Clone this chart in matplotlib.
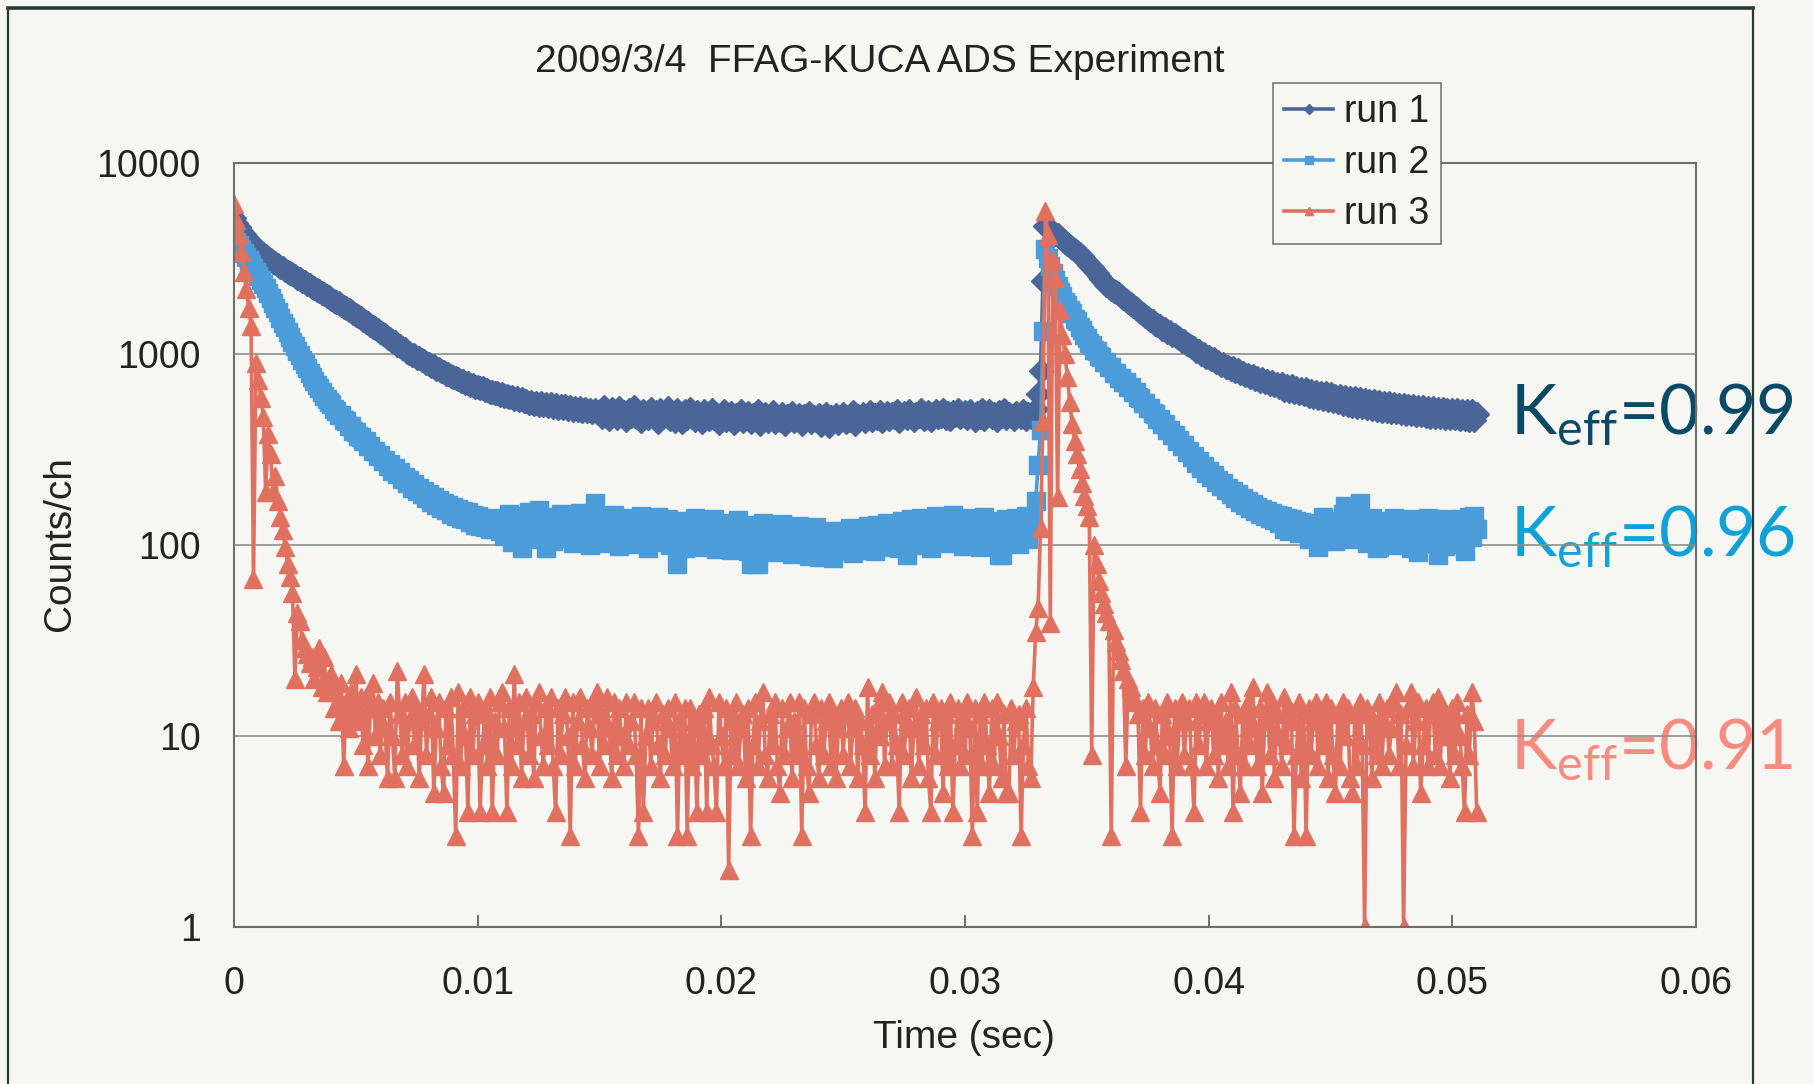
import matplotlib
matplotlib.use("Agg")
import matplotlib.pyplot as plt
import numpy as np
from matplotlib.lines import Line2D
from matplotlib.ticker import FixedLocator, FixedFormatter, NullLocator

plt.rcParams['font.family'] = ['Liberation Sans', 'DejaVu Sans']
plt.rcParams['mathtext.fontset'] = 'custom'
plt.rcParams['mathtext.rm'] = 'Lato'

# counts per 0.1 ms channel
run1 = [
    5180, 4870, 4640, 4420, 4260, 4090, 3960, 3820, 3700, 3610,
    3500, 3430, 3330, 3260, 3170, 3110, 3040, 2990, 2920, 2860,
    2810, 2750, 2700, 2650, 2620, 2560, 2500, 2470, 2420, 2380,
    2330, 2300, 2250, 2210, 2170, 2130, 2080, 2050, 2010, 1980,
    1930, 1900, 1870, 1840, 1800, 1760, 1740, 1700, 1670, 1640,
    1600, 1580, 1540, 1510, 1470, 1450, 1410, 1390, 1360, 1330,
    1300, 1280, 1250, 1220, 1200, 1170, 1150, 1120, 1100, 1070,
    1060, 1030, 1015, 990, 985, 955, 950, 925, 915, 895,
    885, 865, 862, 835, 835, 812, 805, 785, 782, 765,
    762, 745, 742, 725, 724, 708, 704, 690, 692, 675,
    674, 660, 662, 645, 650, 634, 636, 622, 626, 610,
    614, 600, 604, 592, 595, 580, 586, 572, 578, 565,
    570, 556, 563, 550, 557, 544, 552, 538, 548, 532,
    545, 528, 540, 524, 536, 520, 532, 516, 528, 512,
    524, 508, 520, 505, 516, 500, 512, 498, 510, 494,
    505, 470, 528, 482, 455, 515, 490, 462, 520, 478,
    498, 452, 512, 476, 530, 468, 488, 445, 506, 484,
    460, 518, 472, 496, 440, 508, 466, 492, 522, 458,
    486, 448, 510, 474, 438, 500, 462, 515, 470, 452,
    494, 468, 442, 505, 478, 455, 512, 464, 486, 436,
    476, 502, 450, 470, 492, 434, 480, 458, 506, 446,
    468, 490, 440, 478, 455, 500, 432, 472, 486, 448,
    462, 495, 438, 470, 452, 484, 430, 476, 458, 490,
    444, 466, 482, 428, 474, 456, 492, 440, 468, 452,
    478, 426, 462, 486, 418, 470, 448, 482, 436, 464,
    488, 442, 470, 454, 495, 432, 476, 460, 486, 446,
    472, 494, 450, 480, 462, 498, 444, 478, 490, 456,
    484, 466, 500, 448, 476, 492, 460, 505, 470, 452,
    488, 474, 510, 458, 482, 496, 450, 486, 502, 468,
    476, 508, 462, 490, 455, 498, 480, 512, 466, 486,
    494, 460, 504, 478, 450, 492, 470, 508, 458, 484,
    500, 468, 486, 452, 496, 476, 510, 462, 488, 472,
    456, 492, 478, 466, 500, 458, 486, 470, 480, 515,
    615, 815, 2400, 4700, 4550, 4450, 4350, 4270, 4180, 4080,
    3980, 3880, 3780, 3690, 3600, 3500, 3410, 3320, 3240, 3140,
    3040, 2940, 2840, 2740, 2650, 2560, 2460, 2380, 2310, 2250,
    2200, 2150, 2100, 2060, 2020, 1970, 1920, 1870, 1830, 1780,
    1740, 1700, 1660, 1620, 1590, 1550, 1510, 1480, 1440, 1410,
    1395, 1350, 1348, 1310, 1308, 1262, 1258, 1222, 1210, 1172,
    1170, 1130, 1120, 1082, 1080, 1040, 1040, 1002, 1000, 965,
    970, 938, 940, 906, 910, 880, 885, 856, 860, 834,
    840, 812, 828, 792, 800, 774, 780, 758, 768, 742,
    752, 726, 738, 712, 722, 698, 710, 686, 698, 674,
    700, 650, 684, 640, 678, 630, 664, 622, 656, 614,
    652, 604, 640, 596, 636, 588, 628, 580, 622, 572,
    616, 566, 606, 560, 600, 548, 594, 542, 590, 536,
    586, 530, 580, 526, 574, 520, 570, 514, 566, 510,
    562, 506, 556, 500, 552, 496, 548, 494, 544, 490,
    540, 488, 536, 484, 532, 480, 530, 478, 526, 474,
    524, 470, 520, 468, 518, 466, 516, 464, 512, 462,
    510, 460, 508, 458, 506, 456, 504, 454, 500, 452, 488,
]

run2 = [
    4050, 3870, 3700, 3540, 3380, 3230, 3090, 2950, 2820, 2690,
    2570, 2450, 2330, 2210, 2090, 1970, 1860, 1750, 1650, 1550,
    1460, 1380, 1300, 1230, 1160, 1100, 1040, 985, 935, 885,
    840, 800, 760, 725, 690, 660, 630, 605, 580, 560,
    545, 515, 505, 480, 478, 450, 445, 420, 418, 395,
    392, 370, 368, 350, 352, 330, 330, 310, 312, 292,
    296, 276, 280, 258, 265, 245, 252, 234, 240, 222,
    228, 210, 218, 200, 208, 192, 200, 184, 192, 176,
    184, 168, 178, 162, 172, 156, 166, 152, 162, 146,
    158, 142, 155, 138, 150, 136, 148, 132, 144, 128,
    142, 126, 139, 124, 137, 122, 135, 121, 133, 119,
    138, 112, 126, 145, 104, 131, 119, 142, 97, 128,
    116, 148, 108, 134, 122, 152, 110, 127, 97, 140,
    121, 105, 136, 117, 146, 109, 129, 114, 143, 102,
    132, 118, 147, 106, 125, 139, 100, 130, 166, 112,
    127, 141, 103, 121, 136, 110, 144, 116, 99, 133,
    119, 106, 138, 124, 101, 131, 115, 142, 108, 126,
    97, 135, 113, 122, 140, 104, 128, 111, 137, 100,
    124, 109, 80, 131, 117, 96, 134, 106, 121, 139,
    103, 127, 114, 98, 132, 118, 107, 136, 95, 123,
    112, 130, 101, 119, 94, 126, 108, 135, 99, 117,
    128, 93, 80, 114, 121, 80, 104, 131, 96, 115,
    106, 124, 92, 118, 100, 129, 95, 112, 122, 90,
    116, 98, 126, 93, 109, 120, 88, 114, 102, 124,
    87, 111, 97, 119, 92, 106, 85, 115, 101, 94,
    118, 96, 108, 123, 91, 112, 99, 120, 94, 110,
    125, 102, 116, 93, 128, 107, 119, 98, 131, 111,
    104, 127, 115, 96, 133, 109, 89, 122, 137, 100,
    126, 112, 139, 103, 118, 132, 97, 124, 141, 108,
    121, 135, 102, 128, 114, 143, 106, 120, 131, 99,
    129, 111, 138, 105, 124, 134, 98, 117, 140, 109,
    126, 103, 133, 115, 89, 89, 121, 136, 107, 125,
    113, 138, 101, 127, 119, 142, 108, 124, 135, 170,
    263, 398, 1320, 3550, 3200, 2900, 2650, 2450, 2270, 2120,
    2010, 1870, 1800, 1690, 1640, 1530, 1480, 1380, 1340, 1250,
    1220, 1140, 1115, 1050, 1035, 975, 965, 910, 905, 850,
    850, 800, 798, 750, 752, 712, 712, 672, 670, 632,
    632, 592, 590, 555, 556, 520, 522, 490, 488, 458,
    458, 430, 430, 402, 402, 376, 378, 352, 354, 330,
    332, 308, 310, 288, 292, 270, 274, 254, 258, 238,
    244, 226, 232, 214, 220, 203, 210, 193, 200, 184,
    192, 176, 184, 168, 176, 162, 170, 156, 164, 151,
    158, 146, 154, 142, 150, 138, 147, 135, 144, 131,
    141, 122, 139, 118, 136, 128, 134, 115, 132, 124,
    130, 108, 128, 121, 127, 98, 125, 140, 113, 130,
    121, 134, 105, 128, 112, 145, 160, 118, 135, 108,
    126, 139, 166, 114, 131, 102, 125, 138, 110, 97,
    98, 129, 116, 134, 104, 123, 138, 100, 121, 132,
    107, 127, 115, 96, 136, 118, 92, 130, 111, 125,
    139, 103, 121, 133, 89, 117, 128, 99, 136, 112,
    104, 130, 118, 137, 101, 93, 124, 140, 110, 141, 122,
]

run3 = [
    6100, 5000, 4200, 3400, 2700, 2200, 1750, 1400, 66, 900,
    730, 590, 470, 190, 380, 300, 190, 230, 170, 140,
    120, 98, 80, 68, 56, 20, 44, 40, 32, 29,
    27, 24, 26, 20, 23, 29, 18, 26, 17, 20,
    21, 14, 17, 12, 19, 7, 15, 11, 17, 13,
    21, 12, 16, 9, 16, 7, 14, 19, 10, 15,
    8, 14, 11, 6, 15, 10, 6, 22, 13, 8,
    15, 7, 12, 16, 9, 14, 6, 12, 21, 8,
    13, 16, 5, 11, 15, 7, 5, 14, 9, 16,
    8, 3, 17, 7, 14, 10, 4, 16, 8, 13,
    15, 4, 9, 14, 7, 16, 4, 12, 8, 15,
    17, 11, 4, 14, 7, 21, 9, 15, 6, 12,
    16, 8, 13, 6, 15, 17, 10, 7, 14, 9,
    16, 7, 4, 14, 8, 13, 16, 10, 3, 15,
    7, 12, 16, 9, 6, 14, 11, 8, 15, 17,
    7, 13, 9, 16, 11, 6, 15, 8, 14, 10,
    7, 15, 9, 12, 15, 8, 3, 14, 4, 10,
    14, 7, 12, 15, 9, 6, 13, 8, 14, 11,
    7, 15, 3, 12, 8, 14, 3, 14, 7, 11,
    4, 13, 8, 14, 4, 16, 9, 7, 4, 15,
    10, 7, 14, 2, 12, 8, 15, 7, 11, 13,
    6, 14, 3, 9, 15, 7, 12, 17, 8, 6,
    13, 9, 15, 7, 5, 14, 8, 11, 15, 6,
    12, 8, 15, 3, 14, 7, 5, 13, 15, 9,
    6, 14, 8, 12, 15, 7, 13, 6, 11, 14,
    8, 13, 15, 7, 11, 14, 6, 12, 9, 4,
    18, 8, 13, 6, 14, 10, 17, 7, 12, 15,
    7, 13, 9, 4, 15, 8, 12, 14, 6, 11,
    16, 7, 13, 9, 14, 6, 4, 15, 8, 12,
    14, 5, 13, 7, 15, 4, 9, 14, 7, 12,
    8, 15, 11, 3, 14, 4, 13, 7, 15, 9,
    5, 14, 7, 15, 10, 6, 13, 5, 5, 14,
    8, 12, 13, 3, 9, 14, 7, 6, 18, 35,
    47, 123, 447, 5600, 4200, 39, 3100, 2500, 178, 1700,
    1250, 1000, 760, 560, 430, 350, 300, 250, 210, 180,
    160, 140, 8, 100, 80, 65, 56, 49, 44, 40,
    3, 36, 31, 28, 25, 22, 7, 20, 18, 16,
    15, 13, 4, 14, 8, 15, 11, 7, 14, 9,
    5, 13, 8, 15, 10, 3, 14, 7, 12, 15,
    8, 12, 14, 7, 4, 15, 9, 13, 15, 7,
    12, 14, 8, 13, 6, 15, 9, 12, 7, 17,
    4, 14, 8, 5, 13, 7, 15, 9, 18, 11,
    7, 14, 5, 12, 17, 8, 15, 6, 13, 10,
    7, 16, 9, 14, 12, 3, 8, 15, 6, 13,
    3, 14, 8, 12, 15, 7, 13, 9, 15, 6,
    14, 8, 5, 13, 7, 15, 10, 14, 6, 5,
    13, 7, 15, 9, 1, 14, 13, 6, 12, 8,
    15, 7, 12, 14, 8, 11, 15, 17, 7, 13,
    1, 9, 14, 17, 7, 12, 15, 5, 9, 14,
    7, 13, 15, 8, 16, 7, 14, 10, 12, 6,
    14, 8, 15, 10, 7, 4, 13, 8, 17, 12, 4,
]

channel_width = 1e-4
time = np.arange(len(run1)) * channel_width

labels = ['run 1', 'run 2', 'run 3']
keff_labels = ['0.99', '0.96', '0.91']
xtick_vals = [0, 0.01, 0.02, 0.03, 0.04, 0.05, 0.06]
xtick_labels = ['0', '0.01', '0.02', '0.03', '0.04', '0.05', '0.06']
ytick_vals = [1, 10, 100, 1000, 10000]
ytick_labels = ['1', '10', '100', '1000', '10000']

W, H = 1815, 1084
bg = '#f6f6f3'
c1, c2, c3 = '#4a6699', '#4c9cd9', '#e0705f'

fig = plt.figure(figsize=(W / 100, H / 100), dpi=100, facecolor=bg)
ax = fig.add_axes([234 / W, 1 - 927 / H, (1696 - 234) / W, (927 - 163) / H])
ax.set_facecolor(bg)

ax.plot(time, run1, color=c1, marker='D', markersize=12, linewidth=2.6, label=labels[0])
ax.plot(time, run2, color=c2, marker='s', markersize=13, linewidth=2.6, label=labels[1])
ax.plot(time, run3, color=c3, marker='^', markersize=13, linewidth=2.6, label=labels[2])

ax.set_yscale('log')
ax.set_xlim(0, 0.06)
ax.set_ylim(1, 10000)
ax.xaxis.set_major_locator(FixedLocator(xtick_vals))
ax.xaxis.set_major_formatter(FixedFormatter(xtick_labels))
ax.yaxis.set_major_locator(FixedLocator(ytick_vals))
ax.yaxis.set_major_formatter(FixedFormatter(ytick_labels))
ax.yaxis.set_minor_locator(NullLocator())
ax.grid(axis='y', color='#8a8f8c', linewidth=1.2)
ax.tick_params(axis='x', direction='in', length=9, width=1.2, pad=28,
               labelsize=27, colors='#555', labelcolor='#222')
ax.tick_params(axis='y', direction='in', length=0, pad=24,
               labelsize=27, labelcolor='#222')
for s in ax.spines.values():
    s.set_color('#6b706d')
    s.set_linewidth(1.5)

leg = ax.legend(loc='upper left', bbox_to_anchor=(1273 / W, 1 - 83 / H),
                bbox_transform=fig.transFigure, borderaxespad=0,
                fontsize=27, handlelength=1.3, handletextpad=0.3,
                borderpad=0.3, labelspacing=0.4, markerscale=0.45,
                fancybox=False, framealpha=1, facecolor=bg, edgecolor='#777')
leg.get_frame().set_linewidth(1.2)
for t in leg.get_texts():
    t.set_color('#222')

fig.text(880 / W, 1 - 62 / H, '2009/3/4  FFAG-KUCA ADS Experiment',
         fontsize=28, ha='center', va='center', color='#222')
fig.text(964 / W, 1 - 1038 / H, 'Time (sec)', fontsize=28,
         ha='center', va='center', color='#222')
fig.text(60 / W, 1 - 544 / H, 'Counts/ch', fontsize=28, rotation=90,
         ha='center', va='center', color='#222')

keff_colors = ['#0b4a64', '#0ea2d8', '#f88a80']
keff_y = [435, 557, 770]
for lab, col, yy in zip(keff_labels, keff_colors, keff_y):
    ax.text(1510 / W, 1 - yy / H, r'K$_{\rm eff}$=' + lab, transform=fig.transFigure,
            fontsize=50, family='Lato', color=col, ha='left', va='baseline',
            clip_on=False, zorder=0.2)

# frame of the scanned page
frame = '#2c3836'
fig.add_artist(Line2D([8 / W, 1753 / W], [1 - 8 / H, 1 - 8 / H],
                      transform=fig.transFigure, color=frame, linewidth=2.6))
fig.add_artist(Line2D([8 / W, 8 / W], [0, 1 - 8 / H],
                      transform=fig.transFigure, color=frame, linewidth=1.6))
fig.add_artist(Line2D([1753 / W, 1753 / W], [0, 1 - 8 / H],
                      transform=fig.transFigure, color=frame, linewidth=1.6))

fig.savefig('out.png', dpi=100, facecolor=bg)
